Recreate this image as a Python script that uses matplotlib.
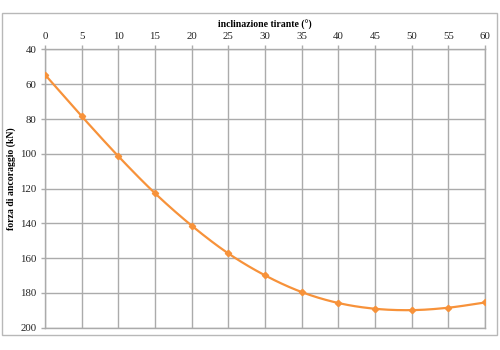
import numpy as np
import matplotlib
matplotlib.use('Agg')
import matplotlib.pyplot as plt
from matplotlib.patches import Rectangle

plt.rcParams['font.family'] = ['Liberation Serif', 'DejaVu Serif']

# inclinazione del tirante (gradi) e forza di ancoraggio (kN)
inclinazione = [0, 5, 10, 15, 20, 25, 30, 35, 40, 45, 50, 55, 60]
forza = [54.5, 78.4, 101.4, 122.7, 141.3, 157.3, 169.9, 179.5, 185.8, 189.1, 189.9, 188.5, 185.5]

x_ticks = list(range(0, 61, 5))
y_ticks = list(range(40, 201, 20))


def curva_smussata(x, y, n=20):
    # spline di Catmull-Rom per una linea morbida tra i punti
    x = np.asarray(x, float)
    y = np.asarray(y, float)
    px = np.concatenate([[2 * x[0] - x[1]], x, [2 * x[-1] - x[-2]]])
    py = np.concatenate([[2 * y[0] - y[1]], y, [2 * y[-1] - y[-2]]])
    xs, ys = [], []
    t = np.linspace(0, 1, n, endpoint=False)
    for i in range(1, len(px) - 2):
        for arr, out in ((px, xs), (py, ys)):
            p0, p1, p2, p3 = arr[i - 1], arr[i], arr[i + 1], arr[i + 2]
            out.extend(0.5 * ((2 * p1) + (-p0 + p2) * t
                              + (2 * p0 - 5 * p1 + 4 * p2 - p3) * t ** 2
                              + (-p0 + 3 * p1 - 3 * p2 + p3) * t ** 3))
    xs.append(x[-1])
    ys.append(y[-1])
    return np.array(xs), np.array(ys)


fig = plt.figure(figsize=(5, 3.5), dpi=100)
fig.patches.append(Rectangle((2 / 500, 15 / 350), 495 / 500, 322 / 350,
                             transform=fig.transFigure, fill=False,
                             edgecolor='#b8b8b8', linewidth=1.0))

ax = fig.add_axes([0.09, 0.0637, 0.88, 0.795])
colore = '#f7923a'
sx, sy = curva_smussata(inclinazione, forza)
ax.plot(sx, sy, color=colore, linewidth=1.6, zorder=3)
ax.plot(inclinazione, forza, linestyle='none', marker='D', markersize=3.2,
        color=colore, zorder=4)

ax.set_xlim(0, 60)
ax.set_ylim(200, 40)
ax.set_xticks(x_ticks)
ax.set_yticks(y_ticks)
ax.xaxis.tick_top()
ax.xaxis.set_label_position('top')
ax.grid(True, color='#ababab', linewidth=1.0)
ax.set_axisbelow(True)
for lato, spina in ax.spines.items():
    spina.set_color('#ababab')
    spina.set_linewidth(1.0)
ax.tick_params(axis='both', colors='#ababab', labelcolor='#222222',
               labelsize=7.8, length=3, width=1.0, pad=3)

ax.set_xlabel('inclinazione tirante (°)', fontsize=7, fontweight='bold')
ax.set_ylabel('forza di ancoraggio (kN)', fontsize=7, fontweight='bold')
ax.xaxis.set_label_coords(0.5, 1.078)
ax.yaxis.set_label_coords(-0.066, 0.537)

fig.savefig('out.png', dpi=100)
